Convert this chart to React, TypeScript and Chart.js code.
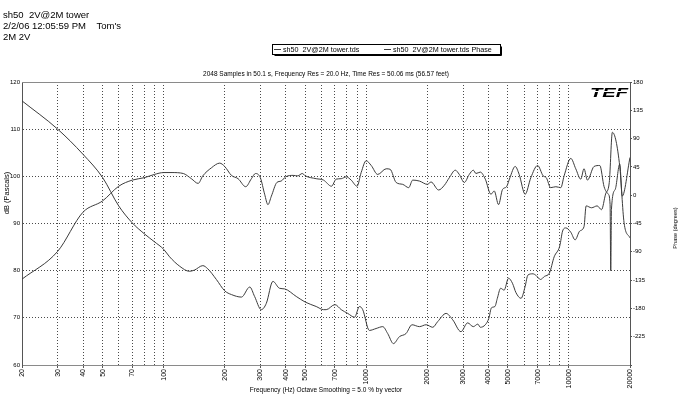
import React, { useEffect, useRef } from 'react';
import { Chart, registerables } from 'chart.js';

Chart.register(...registerables);

// ---------- text ----------
const headerLines = ['sh50  2V@2M tower', "2/2/06 12:05:59 PM    Tom's", '2M 2V'];
const chartTitle = '2048 Samples in 50.1 s, Frequency Res = 20.0 Hz, Time Res = 50.06 ms (56.57 feet)';
const xTitle = 'Frequency (Hz) Octave Smoothing = 5.0 % by vector';
const yTitle = 'dB (Pascals)';
const y2Title = 'Phase (degrees)';
const seriesNames = ['sh50  2V@2M tower.tds', 'sh50  2V@2M tower.tds Phase'];
const logoText = 'TEF';

// ---------- axes ----------
const gridFreqs = [20, 30, 40, 50, 60, 70, 80, 90, 100, 200, 300, 400, 500, 600, 700, 800, 900, 1000, 2000, 3000, 4000, 5000, 6000, 7000, 8000, 9000, 10000, 20000];
const labeledFreqs = [20, 30, 40, 50, 70, 100, 200, 300, 400, 500, 700, 1000, 2000, 3000, 4000, 5000, 7000, 10000, 20000];
const dbMin = 60;
const dbMax = 120;
const dbStep = 10;
const phaseMin = -270;
const phaseMax = 180;
const phaseStep = 45;

// ---------- magnitude series ----------
const magFreq = [20, 30, 40, 50, 60, 70, 80, 90, 100, 110, 125, 137, 148, 156, 172, 189, 200, 216, 233, 254, 271, 284, 300, 315, 327, 340, 362, 380, 400, 435, 459, 483, 500, 566, 615, 673, 710, 752, 796, 842, 900, 943, 998, 1057, 1138, 1253, 1310, 1403, 1512, 1618, 1694, 1828, 2000, 2086, 2274, 2426, 2567, 2748, 2876, 3044, 3220, 3372, 3475, 3652, 3865, 4120, 4276, 4492, 4698, 4920, 5110, 5425, 5678, 6077, 6480, 7000, 7456, 7730, 8120, 8610, 9114, 9460, 10210, 10800, 11430, 11860, 12330, 13300, 14190, 14900, 15640, 15950, 16070, 16200, 16900, 17800, 18300, 20000];
const magDb = [78.2, 84.1, 92.4, 94.8, 97.9, 99.2, 99.7, 100.4, 100.8, 100.8, 100.6, 99.5, 98.5, 100.1, 101.8, 102.8, 102.1, 100.2, 99.5, 97.8, 99.5, 100.6, 99.7, 96.2, 94.0, 95.8, 98.7, 99.0, 99.9, 100.2, 100.1, 100.6, 100.1, 99.5, 99.2, 97.9, 99.4, 99.5, 99.9, 99.2, 97.9, 100.8, 103.3, 102.3, 100.4, 101.6, 101.5, 98.7, 98.3, 97.6, 99.2, 99.0, 98.3, 98.8, 97.1, 98.1, 99.7, 101.3, 100.4, 98.7, 100.4, 101.3, 100.6, 100.9, 99.4, 96.2, 96.9, 94.0, 97.2, 97.8, 99.7, 102.1, 100.4, 96.2, 99.7, 102.3, 100.1, 99.7, 97.6, 97.8, 97.6, 100.1, 103.8, 101.6, 99.4, 101.6, 99.2, 102.1, 102.3, 97.8, 96.2, 94.0, 80.0, 93.0, 97.2, 102.6, 95.8, 104.0];

// ---------- phase series ----------
const phaseFreq = [20, 30, 40, 50, 60, 70, 80, 90, 100, 107, 120, 134, 142, 156, 165, 182, 200, 216, 242, 266, 281, 303, 321, 346, 373, 395, 451, 500, 566, 615, 634, 700, 752, 810, 875, 925, 960, 1035, 1117, 1205, 1275, 1361, 1456, 1570, 1681, 1828, 1973, 2126, 2250, 2474, 2667, 2930, 3162, 3372, 3550, 3652, 3865, 4020, 4145, 4310, 4430, 4600, 4785, 5030, 5260, 5475, 5800, 6077, 6270, 6640, 6900, 7230, 7580, 8000, 8450, 9000, 9300, 9650, 10210, 10720, 11300, 11860, 12150, 12920, 13770, 14470, 15160, 15800, 16370, 17800, 18700, 20000];
const phaseDeg = [150, 105, 65, 28, -17, -44, -61, -74, -86, -98, -113, -121, -119, -112, -117, -134, -152, -158, -162, -146, -161, -182, -172, -137, -148, -149, -161, -170, -177, -182, -182, -174, -182, -188, -194, -177, -182, -215, -212, -209, -220, -236, -225, -220, -206, -209, -206, -210, -201, -188, -198, -217, -203, -209, -205, -210, -206, -196, -179, -177, -164, -148, -151, -132, -140, -155, -164, -145, -127, -125, -128, -134, -129, -124, -98, -81, -57, -52, -59, -71, -57, -50, -17, -20, -17, -23, 2, 20, 100, 46, -44, -68];

const FONT = '"Liberation Sans", Arial, sans-serif';
const LINE = '#3c3c3c';
const GRID = '#4a4a4a';

const decorPlugin = {
  id: 'decor',
  beforeDraw(chart: any) {
    const ctx = chart.ctx;
    ctx.save();
    ctx.fillStyle = '#ffffff';
    ctx.fillRect(0, 0, chart.width, chart.height);
    ctx.restore();
  },
  afterDraw(chart: any) {
    const { ctx, chartArea: a } = chart;
    ctx.save();
    // top frame line
    ctx.strokeStyle = '#8a8a8a';
    ctx.lineWidth = 1;
    ctx.beginPath();
    ctx.moveTo(Math.round(a.left), Math.round(a.top) + 0.5);
    ctx.lineTo(Math.round(a.right), Math.round(a.top) + 0.5);
    ctx.stroke();

    ctx.fillStyle = '#000';
    // header lines
    ctx.font = `9.5px ${FONT}`;
    ctx.textAlign = 'left';
    ctx.textBaseline = 'middle';
    headerLines.forEach((t, i) => ctx.fillText(t, 3, 15 + i * 11));

    // chart title
    ctx.font = `6.5px ${FONT}`;
    ctx.textAlign = 'center';
    ctx.fillText(chartTitle, (a.left + a.right) / 2, 74);

    // legend box
    const bx = 272.5, by = 44.5, bw = 228, bh = 10;
    ctx.strokeStyle = '#000';
    ctx.lineWidth = 1;
    ctx.strokeRect(bx, by, bw, bh);
    ctx.beginPath();
    ctx.moveTo(bx + 2, by + bh + 1);
    ctx.lineTo(bx + bw + 1, by + bh + 1);
    ctx.lineTo(bx + bw + 1, by + 2);
    ctx.stroke();
    ctx.font = `7.2px ${FONT}`;
    ctx.textAlign = 'left';
    const items = chart.data.datasets.map((d: any) => d.label);
    const itemX = [274, 384];
    items.forEach((label: string, i: number) => {
      ctx.strokeStyle = LINE;
      ctx.beginPath();
      ctx.moveTo(itemX[i], by + 5);
      ctx.lineTo(itemX[i] + 7, by + 5);
      ctx.stroke();
      ctx.fillText(label, itemX[i] + 9, by + 5.5);
    });

    // y axis titles
    ctx.font = `7.5px ${FONT}`;
    ctx.textAlign = 'center';
    ctx.save();
    ctx.translate(7, 193);
    ctx.rotate(-Math.PI / 2);
    ctx.fillText(yTitle, 0, 0);
    ctx.restore();
    ctx.font = `5.6px ${FONT}`;
    ctx.save();
    ctx.translate(675, 228);
    ctx.rotate(-Math.PI / 2);
    ctx.fillText(y2Title, 0, 0);
    ctx.restore();

    // logo
    ctx.save();
    ctx.translate(a.right - 40, a.top + 15);
    ctx.scale(1.55, 1);
    ctx.font = `italic bold 13px ${FONT}`;
    ctx.textAlign = 'left';
    ctx.textBaseline = 'alphabetic';
    ctx.fillStyle = '#000';
    ctx.fillText(logoText, 0, 0);
    ctx.restore();
    ctx.fillStyle = '#fff';
    ctx.fillRect(a.right - 42, a.top + 9, 42, 1);
    ctx.restore();
  },
};

export default function App() {
  const ref = useRef<HTMLCanvasElement>(null);

  useEffect(() => {
    const canvas = ref.current;
    if (!canvas) return;
    const magData = magFreq.map((f, i) => ({ x: f, y: magDb[i] }));
    const phaseData = phaseFreq.map((f, i) => ({ x: f, y: phaseDeg[i] }));

    const chart = new Chart(canvas, {
      type: 'line',
      data: {
        datasets: [
          {
            label: seriesNames[0],
            data: magData,
            yAxisID: 'y',
            borderColor: LINE,
            borderWidth: 1,
            pointRadius: 0,
            cubicInterpolationMode: 'monotone',
            fill: false,
          },
          {
            label: seriesNames[1],
            data: phaseData,
            yAxisID: 'y2',
            borderColor: LINE,
            borderWidth: 1,
            pointRadius: 0,
            cubicInterpolationMode: 'monotone',
            fill: false,
          },
        ],
      },
      options: {
        responsive: false,
        animation: false,
        devicePixelRatio: 1,
        layout: { padding: { left: 0, right: 0, top: 82, bottom: 0 } },
        plugins: {
          legend: { display: false },
          title: { display: false },
          tooltip: { enabled: false },
        },
        scales: {
          x: {
            type: 'logarithmic',
            min: 20,
            max: 20000,
            afterBuildTicks: (s: any) => {
              s.ticks = gridFreqs.map((v) => ({ value: v }));
            },
            afterFit: (s: any) => {
              s.height = 32;
            },
            ticks: {
              autoSkip: false,
              minRotation: 90,
              maxRotation: 90,
              padding: 1,
              color: '#000',
              font: { family: FONT, size: 7 },
              callback: (v: any) => (labeledFreqs.includes(Number(v)) ? String(v) : ''),
            },
            grid: {
              color: (c: any) => (c.tick && (c.tick.value === 20 || c.tick.value === 20000) ? 'rgba(0,0,0,0)' : GRID),
              lineWidth: 1,
              drawTicks: true,
              tickLength: 3,
              tickColor: (c: any) => (c.tick && labeledFreqs.includes(c.tick.value) ? '#555' : 'rgba(0,0,0,0)'),
            },
            border: { display: true, color: '#8a8a8a', width: 1, dash: [1, 2] },
            title: {
              display: true,
              text: xTitle,
              color: '#000',
              font: { family: FONT, size: 6.5 },
              padding: { top: 0, bottom: 3 },
            },
          },
          y: {
            type: 'linear',
            position: 'left',
            min: dbMin,
            max: dbMax,
            afterFit: (s: any) => {
              s.width = 22;
            },
            ticks: {
              stepSize: dbStep,
              padding: 2,
              color: '#000',
              font: { family: FONT, size: 6 },
            },
            grid: {
              color: (c: any) => (c.tick && (c.tick.value === dbMin || c.tick.value === dbMax) ? 'rgba(0,0,0,0)' : GRID),
              lineWidth: 1,
              drawTicks: false,
            },
            border: { display: true, color: '#555', width: 1, dash: [1, 2] },
          },
          y2: {
            type: 'linear',
            position: 'right',
            min: phaseMin,
            max: phaseMax,
            afterFit: (s: any) => {
              s.width = 50;
            },
            ticks: {
              stepSize: phaseStep,
              padding: 1,
              color: '#000',
              font: { family: FONT, size: 6 },
              callback: (v: any) => (Number(v) === phaseMin ? '' : String(v)),
            },
            grid: {
              drawOnChartArea: false,
              drawTicks: true,
              tickLength: 2,
              tickColor: '#555',
            },
            border: { display: true, color: '#555', width: 1 },
          },
        },
      },
      plugins: [decorPlugin],
    } as any);

    return () => chart.destroy();
  }, []);

  return (
    <div style={{ position: 'fixed', left: 0, top: 0, width: 680, height: 397, background: '#fff' }}>
      <canvas ref={ref} width={680} height={397} style={{ display: 'block', width: 680, height: 397 }} />
    </div>
  );
}
